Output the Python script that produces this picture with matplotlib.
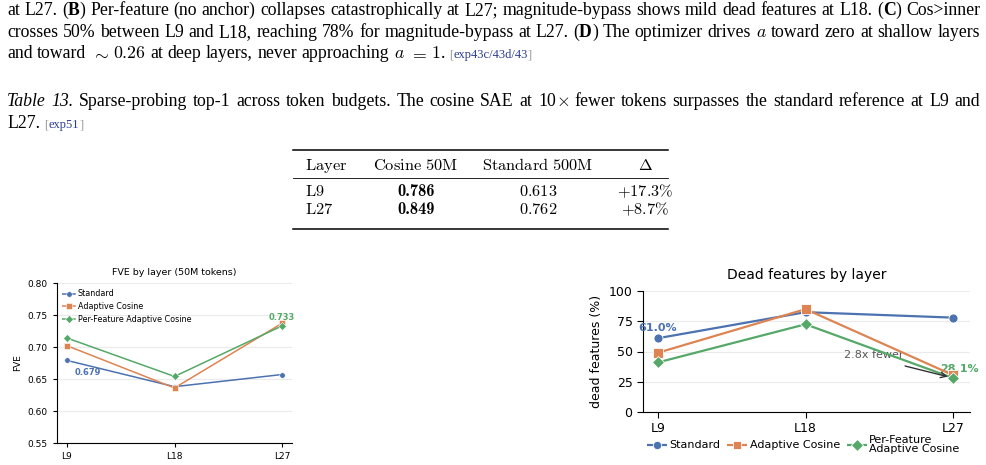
import matplotlib.pyplot as plt
from matplotlib.lines import Line2D

plt.rcParams['mathtext.fontset'] = 'cm'
plt.rcParams['font.family'] = 'DejaVu Sans'

# --- données ---
layers = ['L9', 'L18', 'L27']
series = ['Standard', 'Adaptive Cosine', 'Per-Feature Adaptive Cosine']
fve_standard = [0.679, 0.638, 0.657]
fve_adaptive = [0.702, 0.636, 0.737]
fve_perfeat = [0.714, 0.654, 0.733]
dead_standard = [61.0, 82.5, 78.0]
dead_adaptive = [49.0, 85.0, 30.5]
dead_perfeat = [41.0, 72.5, 28.1]

table_header = ['Layer', 'Cosine 50M', 'Standard 500M', r'\Delta']
table_layers = ['L9', 'L27']
table_cosine = ['0.786', '0.849']
table_standard = ['0.613', '0.762']
table_delta = ['+17.3', '+8.7']

colors = ['#4C72B0', '#DD8452', '#55A868']
markers = ['o', 's', 'D']

W, H = 986, 465
fig = plt.figure(figsize=(W / 100, H / 100), dpi=100)
rend = fig.canvas.get_renderer()


def fpos(x, y):
    return x / W, 1 - y / H


BODY = dict(family='Liberation Serif', size=12.8, color='black')
BOLD = dict(weight='bold')
ITAL = dict(style='italic')
MATH = dict()
LINK = dict(size=9, color='#2b3c93')
LGRAY = dict(size=9, color='#9a9a9a')


def text_line(pieces, x0, y, width=None):
    """Place une ligne de texte mixte, justifiée si width est donné."""
    words = [[]]
    for txt, style in pieces:
        for j, part in enumerate(txt.split(' ')):
            if j > 0:
                words.append([])
            if part:
                words[-1].append((part, style))
    words = [w for w in words if w]
    placed = []
    total = 0
    for w in words:
        arts = []
        for part, style in w:
            t = fig.text(0, 0, part, va='baseline', **{**BODY, **style})
            wd = t.get_window_extent(rend).width
            arts.append((t, wd))
            total += wd
        placed.append(arts)
    gap = BODY['size'] * 100 / 72 * 0.25
    if width is not None and len(placed) > 1:
        gap = (width - total) / (len(placed) - 1)
    x = x0
    for arts in placed:
        for t, wd in arts:
            t.set_position(fpos(x, y))
            x += wd
        x += gap


# --- paragraphe du haut ---
text_line([('at L27. (', {}), ('B', BOLD), (') Per-feature (no anchor) collapses catastrophically at L27; '
           'magnitude-bypass shows mild dead features at L18. (', {}), ('C', BOLD), (') Cos>inner', {})],
          7, 15, width=973)
text_line([('crosses 50% between L9 and L18, reaching 78% for magnitude-bypass at L27. (', {}), ('D', BOLD),
           (') The optimizer drives ', {}), (r'$a$', MATH), (' toward zero at shallow layers', {})],
          7, 37, width=973)
text_line([('and toward ', {}), (r'$\sim$', MATH), (' ', {}), (r'$0.26$', MATH),
           (' at deep layers, never approaching ', {}), (r'$a$', MATH), (' ', {}), (r'$=$', MATH), (' ', {}),
           (r'$1$', MATH), ('. ', {}), ('[', LGRAY), ('exp43c/43d/43', LINK), (']', LGRAY)],
          7, 58)

# --- légende du tableau ---
text_line([('Table 13.', ITAL), (' Sparse-probing top-1 across token budgets. The cosine SAE at 10', {}),
           (r'$\times$', MATH), (' fewer tokens surpasses the standard reference at L9 and', {})],
          7, 106, width=973)
text_line([('L27. ', {}), ('[', LGRAY), ('exp51', LINK), (']', LGRAY)], 7, 128)

# --- tableau ---
x_rule = (293 / W, 668 / W)
for yy, lw in [(150, 1.1), (178, 0.6), (229, 1.1)]:
    fig.add_artist(Line2D(x_rule, [1 - yy / H] * 2, color='black', lw=lw))

TAB = dict(size=11.8, va='baseline')
col_x = [305, 416, 538, 645]
col_ha = ['left', 'center', 'center', 'center']
for cx, ha, lab in zip(col_x, col_ha, table_header):
    lab = lab.replace(' ', r'\ ')
    fig.text(*fpos(cx, 170), r'$\mathrm{' + lab + '}$', ha=ha, **TAB)
for i, yy in enumerate([196, 214]):
    fig.text(*fpos(col_x[0], yy), r'$\mathrm{' + table_layers[i] + '}$', ha='left', **TAB)
    fig.text(*fpos(col_x[1], yy), table_cosine[i], ha='center', family='cmb10', **TAB)
    fig.text(*fpos(col_x[2], yy), r'$' + table_standard[i] + '$', ha='center', **TAB)
    fig.text(*fpos(col_x[3], yy), r'$' + table_delta[i] + r'\%$', ha='center', **TAB)


def style_axes(ax, size, tick_len):
    for s in ['top', 'right']:
        ax.spines[s].set_visible(False)
    ax.grid(axis='y', color='#ebebeb', lw=0.8)
    ax.set_axisbelow(True)
    ax.tick_params(labelsize=size, length=tick_len, width=0.8)


# --- graphique gauche : FVE ---
ax1 = fig.add_axes([57 / W, 1 - 443 / H, 235 / W, 160 / H])
xs = list(range(len(layers)))
for vals, c, m in zip([fve_standard, fve_adaptive, fve_perfeat], colors, markers):
    ax1.plot(xs, vals, color=c, marker=m, ms=4, mec='white', mew=0.4, lw=1.1)
ax1.set_xlim(-0.093, 2.093)
ax1.set_ylim(0.55, 0.80)
ax1.set_xticks(xs, layers)
ax1.set_yticks([0.55, 0.60, 0.65, 0.70, 0.75, 0.80])
ax1.yaxis.set_major_formatter('{x:.2f}')
style_axes(ax1, 6.5, 3)
ax1.set_ylabel('FVE', fontsize=6.5)
ax1.set_title('FVE by layer (50M tokens)', fontsize=6.8, pad=5.5)
h1 = [Line2D([], [], color=c, marker=m, ls='--', lw=1.1, ms=4, mec='white', mew=0.4)
      for c, m in zip(colors, markers)]
ax1.legend(h1, series, loc='upper left', bbox_to_anchor=(0.0, 0.99), frameon=False, fontsize=5.8,
           handlelength=1.7, handletextpad=0.3, labelspacing=0.45, borderaxespad=0.2)
ax1.annotate('0.679', (0, fve_standard[0]), xytext=(21, -12), textcoords='offset pixels',
             ha='center', va='center', color=colors[0], fontsize=6, fontweight='bold')
ax1.annotate('0.733', (2, fve_perfeat[2]), xytext=(0, 8), textcoords='offset pixels',
             ha='center', va='center', color=colors[2], fontsize=6, fontweight='bold')

# --- graphique droit : features mortes ---
ax2 = fig.add_axes([643 / W, 1 - 412 / H, 327 / W, 121 / H])
for vals, c, m in zip([dead_standard, dead_adaptive, dead_perfeat], colors, markers):
    ax2.plot(xs, vals, color=c, marker=m, ms=6.5, mec='white', mew=0.6, lw=1.6)
ax2.set_xlim(-0.102, 2.115)
ax2.set_ylim(0, 100)
ax2.set_xticks(xs, layers)
ax2.set_yticks([0, 25, 50, 75, 100])
style_axes(ax2, 9, 4)
ax2.set_ylabel('dead features (%)', fontsize=9)
ax2.set_title('Dead features by layer', fontsize=10, pad=8.5)
ax2.annotate('61.0%', (0, dead_standard[0]), xytext=(0, 10), textcoords='offset pixels',
             ha='center', va='center', color=colors[0], fontsize=8, fontweight='bold')
ax2.annotate('28.1%', (2, dead_perfeat[2]), xytext=(6, 9), textcoords='offset pixels',
             ha='center', va='center', color=colors[2], fontsize=8, fontweight='bold', zorder=1.5)
ax2.text(1.46, 47, '2.8x fewer', ha='center', va='center', fontsize=8, color='#555555', zorder=1.5)
ax2.annotate('', xy=(2, dead_perfeat[2]), xytext=(1.675, 38), textcoords='data', zorder=5,
             arrowprops=dict(arrowstyle='->', color='#333333', lw=1, shrinkA=0, shrinkB=4))
h2 = [Line2D([], [], color=c, marker=m, ls='--', lw=1.6, ms=6, mec='white', mew=0.6)
      for c, m in zip(colors, markers)]
leg = ax2.legend(h2, ['Standard', 'Adaptive Cosine', 'Per-Feature\nAdaptive Cosine'], loc='upper center',
                 bbox_to_anchor=(0.49, -0.15), ncol=3, frameon=False, fontsize=8, handlelength=1.8,
                 handletextpad=0.2, columnspacing=0.6, borderaxespad=0.0)
for t in leg.get_texts():
    t.set_linespacing(0.95)

fig.savefig('out.png', dpi=100)
